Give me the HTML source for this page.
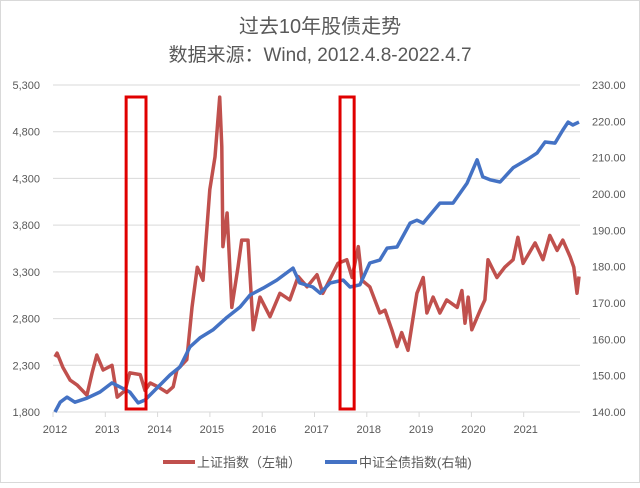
<!DOCTYPE html>
<html><head><meta charset="utf-8"><style>
body{margin:0;background:#fff}
svg text{font-family:"Liberation Sans","Noto Sans CJK SC",sans-serif;fill:#595959}
</style></head><body>
<svg width="640" height="483" viewBox="0 0 640 483">
<rect x="0.5" y="0.5" width="639" height="482" fill="#fff" stroke="#d9d9d9"/>
<text x="320" y="33" font-size="20" text-anchor="middle">过去10年股债走势</text>
<text x="320" y="61" font-size="19" text-anchor="middle">数据来源：Wind, 2012.4.8-2022.4.7</text>
<g id="grid"></g><g id="axes"></g><g id="series"></g><g id="boxes"></g>
<g>
<line x1="163" y1="462" x2="195" y2="462" stroke="#c0504d" stroke-width="4"/>
<text x="197" y="467" font-size="13">上证指数（左轴）</text>
<line x1="325" y1="462" x2="357" y2="462" stroke="#4472c4" stroke-width="4"/>
<text x="359" y="467" font-size="13">中证全债指数(右轴)</text>
</g>
</svg>
<script>
const leftTicks=[1800,2300,2800,3300,3800,4300,4800,5300];
const leftTickLabels=["1,800","2,300","2,800","3,300","3,800","4,300","4,800","5,300"];
const rightTicks=[140,150,160,170,180,190,200,210,220,230];
const yearTicks=[2012,2013,2014,2015,2016,2017,2018,2019,2020,2021];
const sseT=[2012.0,2012.04,2012.15,2012.29,2012.42,2012.61,2012.71,2012.80,2012.92,2013.09,2013.19,2013.34,2013.43,2013.63,2013.72,2013.82,2013.97,2014.14,2014.26,2014.33,2014.52,2014.62,2014.72,2014.83,2014.96,2015.06,2015.15,2015.19,2015.21,2015.29,2015.38,2015.50,2015.57,2015.69,2015.79,2015.92,2016.11,2016.30,2016.49,2016.65,2016.82,2017.01,2017.12,2017.32,2017.41,2017.58,2017.68,2017.80,2017.87,2018.02,2018.21,2018.31,2018.44,2018.54,2018.63,2018.75,2018.92,2019.04,2019.11,2019.23,2019.36,2019.49,2019.69,2019.78,2019.84,2019.90,2019.97,2020.13,2020.22,2020.28,2020.45,2020.60,2020.76,2020.85,2020.95,2021.18,2021.33,2021.46,2021.60,2021.71,2021.85,2021.92,2021.98,2022.02];
const sseV=[2390,2430,2280,2140,2090,1980,2220,2410,2250,2300,1960,2030,2220,2200,2030,2110,2070,2010,2070,2250,2360,2920,3350,3210,4180,4530,5170,4640,3570,3930,2920,3350,3640,3640,2680,3030,2820,3070,3000,3250,3140,3270,3070,3290,3390,3430,3240,3570,3210,3140,2860,2890,2680,2500,2650,2460,3070,3240,2860,3030,2860,3000,2920,3100,2750,3030,2680,2890,3000,3430,3240,3350,3430,3670,3390,3610,3430,3690,3530,3640,3460,3350,3070,3250];
const bondT=[2012.0,2012.10,2012.23,2012.38,2012.61,2012.86,2013.09,2013.24,2013.43,2013.59,2013.72,2013.95,2014.20,2014.39,2014.58,2014.77,2015.02,2015.29,2015.54,2015.73,2015.98,2016.24,2016.55,2016.68,2016.93,2017.07,2017.26,2017.51,2017.64,2017.83,2018.02,2018.21,2018.35,2018.54,2018.79,2018.92,2019.04,2019.36,2019.61,2019.88,2020.07,2020.18,2020.32,2020.51,2020.76,2021.02,2021.22,2021.37,2021.56,2021.71,2021.81,2021.90,2022.02];
const bondV=[140.0,142.7,144.1,142.7,143.8,145.5,148.0,146.9,145.5,142.5,143.3,146.6,150.2,152.4,157.9,160.4,162.6,166.1,168.9,172.2,174.1,176.3,179.6,175.5,174.4,172.7,175.5,176.3,174.4,175.0,181.0,181.8,185.1,185.4,192.0,192.8,192.0,197.5,197.5,203.0,209.4,204.7,203.9,203.3,207.2,209.4,211.3,214.3,214.0,217.6,219.8,219.0,219.8];
const boxRanges=[[2013.36,2013.74],[2017.45,2017.72]];
const NS="http://www.w3.org/2000/svg";
const X0=53,X1=580,Y0=412,Y1=85;
const xs=t=>55+(t-2012)*52.3;
const yl=v=>Y0-(v-1800)/(5300-1800)*(Y0-Y1);
const yr=v=>Y0-(v-140)/(230-140)*(Y0-Y1);
function mk(tag,attrs,parent,txt){const e=document.createElementNS(NS,tag);for(const k in attrs)e.setAttribute(k,attrs[k]);if(txt!==undefined)e.textContent=txt;document.getElementById(parent).appendChild(e);return e;}
leftTicks.forEach((v,i)=>{
 const g=mk('line',{x1:X0,x2:X1,y1:yl(v),y2:yl(v),stroke:'#d9d9d9','stroke-width':1},'grid');
 
 
 const t=mk('text',{x:40,y:yl(v)+4,'font-size':11,'text-anchor':'end'},'axes',leftTickLabels[i]);
 
 
});
rightTicks.forEach(v=>{
 const t=mk('text',{x:592,y:yr(v)+4,'font-size':11},'axes',v.toFixed(2));
 
 
});
yearTicks.forEach(y=>{
 const tk=mk('line',{x1:xs(y)-2,x2:xs(y)-2,y1:Y0,y2:Y0+5,stroke:'#d9d9d9'},'axes');
 
 
 const t=mk('text',{x:xs(y),y:Y0+21,'font-size':11,'text-anchor':'middle'},'axes',String(y));
 
 
});
function line(T,V,ys,col,name){
 const d=T.map((t,i)=>(i?'L':'M')+xs(t).toFixed(1)+','+ys(V[i]).toFixed(1)).join('');
 const p=mk('path',{d:d,fill:'none',stroke:col,'stroke-width':3.5,'stroke-linejoin':'round'},'series');
 
 
}
line(sseT,sseV,yl,'#c0504d','sse-line');
line(bondT,bondV,yr,'#4472c4','bond-line');
boxRanges.forEach(r=>{
 const b=mk('rect',{x:xs(r[0]),y:97,width:xs(r[1])-xs(r[0]),height:312,fill:'none',stroke:'#e00000','stroke-width':3},'boxes');
 
 
});
</script>
</body></html>
